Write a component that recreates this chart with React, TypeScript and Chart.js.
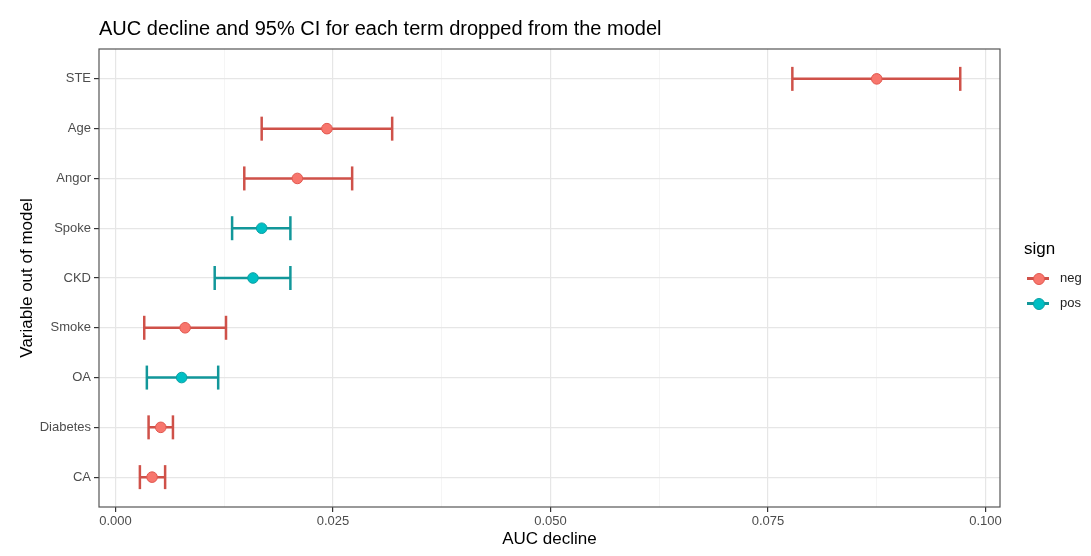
import React, { useEffect, useRef } from "react";
import { Chart, registerables } from "chart.js";

Chart.register(...registerables);

const terms = ["STE", "Age", "Angor", "Spoke", "CKD", "Smoke", "OA", "Diabetes", "CA"];
const aucDecline = [0.0875, 0.0243, 0.0209, 0.0168, 0.0158, 0.008, 0.0076, 0.0052, 0.0042];
const ciLower = [0.0778, 0.0168, 0.0148, 0.0134, 0.0114, 0.0033, 0.0036, 0.0038, 0.0028];
const ciUpper = [0.0971, 0.0318, 0.0272, 0.0201, 0.0201, 0.0127, 0.0118, 0.0066, 0.0057];
const signs = ["neg", "neg", "neg", "pos", "pos", "neg", "pos", "neg", "neg"];
const signLevels = ["neg", "pos"];
const xMajorTicks = [0, 0.025, 0.05, 0.075, 0.1];
const xMinorTicks = [0.0125, 0.0375, 0.0625, 0.0875];

const pointFill: Record<string, string> = { neg: "#F8766D", pos: "#00BFC4" };
const pointEdge: Record<string, string> = { neg: "#E0574E", pos: "#0A9FA3" };
const barColor: Record<string, string> = { neg: "#CF5149", pos: "#12979A" };

const FONT = "'Liberation Sans', Arial, Helvetica, sans-serif";

const panelBorder = {
  id: "panelBorder",
  afterDraw(chart: any) {
    const { ctx, chartArea } = chart;
    ctx.save();
    ctx.strokeStyle = "#555555";
    ctx.lineWidth = 1.2;
    ctx.strokeRect(chartArea.left, chartArea.top, chartArea.right - chartArea.left, chartArea.bottom - chartArea.top);
    ctx.restore();
  },
};

const isMajor = (v: number) => xMajorTicks.some((m) => Math.abs(m - v) < 1e-9);

export default function App() {
  const ref = useRef<HTMLCanvasElement | null>(null);

  useEffect(() => {
    if (!ref.current) return;
    const n = terms.length;
    const pointSets = signLevels.map((s) => ({
      type: "scatter",
      label: s,
      order: 0,
      data: terms
        .map((_, i) => (signs[i] === s ? { x: aucDecline[i], y: n - i } : null))
        .filter((d) => d !== null),
      pointRadius: 5.3,
      pointBackgroundColor: pointFill[s],
      pointBorderColor: pointEdge[s],
      pointBorderWidth: 1,
      showLine: false,
    }));
    const barSets = signLevels.map((s) => {
      const data: any[] = [];
      terms.forEach((_, i) => {
        if (signs[i] !== s) return;
        data.push({ x: ciLower[i], y: n - i });
        data.push({ x: ciUpper[i], y: n - i });
        data.push({ x: null, y: null });
      });
      return {
        type: "scatter",
        label: s + " CI",
        order: 1,
        data,
        showLine: true,
        spanGaps: false,
        borderColor: barColor[s],
        borderWidth: 2.5,
        pointStyle: "line",
        rotation: 90,
        pointRadius: 12,
        pointBorderColor: barColor[s],
        pointBorderWidth: 2.5,
      };
    });

    const chart = new Chart(ref.current, {
      type: "scatter",
      data: { datasets: [...pointSets, ...barSets] as any },
      options: {
        responsive: false,
        animation: false,
        events: [],
        layout: { padding: { left: 0, right: 91, top: 0, bottom: 0 } },
        plugins: {
          legend: { display: false },
          tooltip: { enabled: false },
          title: {
            display: true,
            text: "AUC decline and 95% CI for each term dropped from the model",
            align: "start",
            fullSize: false,
            color: "#000000",
            font: { family: FONT, size: 20, weight: "normal" },
            padding: { top: 17, bottom: 8 },
          },
        },
        scales: {
          x: {
            type: "linear",
            min: -0.0019,
            max: 0.10167,
            afterBuildTicks: (scale: any) => {
              scale.ticks = [...xMajorTicks, ...xMinorTicks].sort((a, b) => a - b).map((v) => ({ value: v }));
            },
            afterFit: (scale: any) => {
              scale.height = 49;
            },
            ticks: {
              autoSkip: false,
              maxRotation: 0,
              padding: 2,
              color: "#4D4D4D",
              font: { family: FONT, size: 13 },
              callback: (v: any) => (isMajor(Number(v)) ? Number(v).toFixed(3) : ""),
            },
            grid: {
              color: (ctx: any) => (ctx.tick && isMajor(ctx.tick.value) ? "#E6E6E6" : "#F2F2F2"),
              lineWidth: (ctx: any) => (ctx.tick && isMajor(ctx.tick.value) ? 1.2 : 0.8),
              tickColor: (ctx: any) => (ctx.tick && isMajor(ctx.tick.value) ? "#333333" : "rgba(0,0,0,0)"),
              tickLength: 5,
              tickWidth: 1.2,
            },
            border: { display: false },
            title: {
              display: true,
              text: "AUC decline",
              color: "#000000",
              font: { family: FONT, size: 17 },
              padding: { top: 0, bottom: 6 },
            },
          },
          y: {
            type: "linear",
            min: 0.4,
            max: 9.6,
            afterBuildTicks: (scale: any) => {
              scale.ticks = terms.map((_, i) => ({ value: n - i }));
            },
            afterFit: (scale: any) => {
              scale.width = 99;
            },
            ticks: {
              autoSkip: false,
              padding: 3,
              color: "#4D4D4D",
              font: { family: FONT, size: 13 },
              callback: (v: any) => terms[n - Number(v)] ?? "",
            },
            grid: {
              color: "#E6E6E6",
              lineWidth: 1.2,
              tickColor: "#333333",
              tickLength: 5,
              tickWidth: 1.2,
            },
            border: { display: false },
            title: {
              display: true,
              text: "Variable out of model",
              color: "#000000",
              font: { family: FONT, size: 17 },
              padding: { top: 17, bottom: 0 },
            },
          },
        },
      } as any,
      plugins: [panelBorder],
    });
    return () => chart.destroy();
  }, []);

  return (
    <div style={{ position: "absolute", left: 0, top: 0, width: 1091, height: 556, background: "#ffffff", fontFamily: FONT }}>
      <canvas ref={ref} width={1091} height={556} style={{ display: "block" }} />
      <div style={{ position: "absolute", left: 1024, top: 239, fontSize: 17, color: "#000", lineHeight: "20px" }}>sign</div>
      {signLevels.map((s, k) => (
        <div key={s} style={{ position: "absolute", left: 1027, top: 268 + k * 25, width: 60, height: 20 }}>
          <div style={{ position: "absolute", left: 0, top: 9, width: 22, height: 2.5, background: barColor[s] }} />
          <div
            style={{
              position: "absolute",
              left: 5.5,
              top: 4.5,
              width: 10,
              height: 10,
              borderRadius: "50%",
              background: pointFill[s],
              border: `1px solid ${pointEdge[s]}`,
            }}
          />
          <span style={{ position: "absolute", left: 33, top: 2, fontSize: 13, color: "#222", lineHeight: "16px" }}>{s}</span>
        </div>
      ))}
    </div>
  );
}
